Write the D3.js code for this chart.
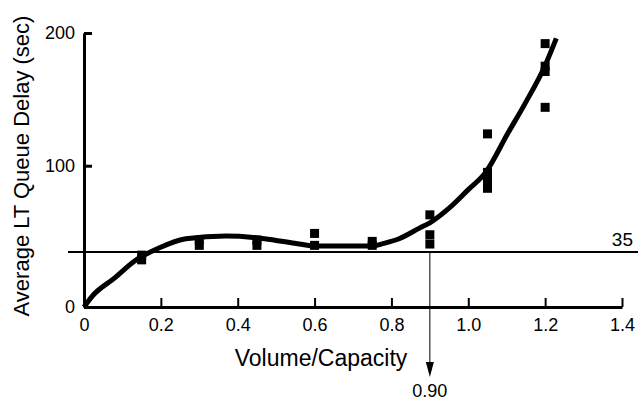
<!DOCTYPE html>
<html>
<head>
<meta charset="utf-8">
<script src="https://cdn.jsdelivr.net/npm/d3@7"></script>
<style>
  body { margin: 0; background: #fff; }
  svg text { font-family: "Liberation Sans", Arial, sans-serif; fill: #000; }
</style>
</head>
<body>
<script>
// observed delays (squares)
const pointX = [0.15, 0.15, 0.3, 0.3, 0.45, 0.45, 0.6, 0.6, 0.75, 0.75, 0.9, 0.9, 0.9, 1.05, 1.05, 1.05, 1.05, 1.2, 1.2, 1.2, 1.2]
const pointY = [33, 30, 44, 40, 44, 40, 49, 40, 43, 40, 63, 48, 41, 124, 95, 89, 83, 192, 175, 171, 144]

// fitted curve
const curveX = [0, 0.02, 0.08, 0.13, 0.195, 0.265, 0.37, 0.44, 0.47, 0.56, 0.6, 0.75, 0.78, 0.82, 0.873, 0.9, 0.95, 1.0, 1.044, 1.104, 1.148, 1.199, 1.229]
const curveY = [0, 6.5, 18.5, 29, 38, 45, 47, 46, 45, 41, 39.5, 39.5, 41.5, 45, 53, 57, 68, 82, 94.5, 125, 147, 175, 196]

const xTicks = [0, 0.2, 0.4, 0.6, 0.8, 1.0, 1.2, 1.4]
const xTickLabels = ['0', '0.2', '0.4', '0.6', '0.8', '1.0', '1.2', '1.4']
const yTicks = [0, 100, 200]

const threshold = 35     // horizontal reference line
const crossing = 0.90    // where the curve meets it

const WIDTH = 638
const HEIGHT = 401

const svg = d3.select('body').append('svg')
  .attr('width', WIDTH)
  .attr('height', HEIGHT)

const x = d3.scaleLinear().domain([0, 1.4]).range([84, 622])
// the printed figure is not quite linear near the bottom, so calibrate on three knots
const y = d3.scaleLinear().domain([0, 35, 200]).range([307, 252, 33])

// x axis, ticks pointing up
const xAxis = svg.append('g')
  .attr('transform', `translate(0,${y(0)})`)
  .call(d3.axisBottom(x)
    .tickValues(xTicks)
    .tickFormat((d, i) => xTickLabels[i])
    .tickSizeInner(-9)
    .tickSizeOuter(0)
    .tickPadding(11))
xAxis.select('.domain').attr('stroke', '#000').attr('stroke-width', 3)
xAxis.selectAll('.tick line').attr('stroke', '#000').attr('stroke-width', 2)
xAxis.selectAll('.tick text').attr('font-size', 18).attr('fill', '#000')

// y axis, ticks pointing right
const yAxis = svg.append('g')
  .attr('transform', `translate(${x(0)},0)`)
  .call(d3.axisLeft(y)
    .tickValues(yTicks)
    .tickSizeInner(-8)
    .tickSizeOuter(0)
    .tickPadding(9))
yAxis.select('.domain').attr('stroke', '#000').attr('stroke-width', 3)
yAxis.selectAll('.tick line').attr('stroke', '#000').attr('stroke-width', 3)
yAxis.selectAll('.tick text').attr('font-size', 18).attr('fill', '#000')

// reference line at 35
svg.append('line')
  .attr('x1', 68)
  .attr('x2', WIDTH)
  .attr('y1', y(threshold))
  .attr('y2', y(threshold))
  .attr('stroke', '#000')
  .attr('stroke-width', 2)

svg.append('text')
  .attr('x', 633)
  .attr('y', y(threshold) - 6)
  .attr('text-anchor', 'end')
  .attr('font-size', 19)
  .text(threshold)

// arrow down from the crossing
const ax = x(crossing)
svg.append('line')
  .attr('x1', ax).attr('x2', ax)
  .attr('y1', y(threshold))
  .attr('y2', 364)
  .attr('stroke', '#000')
  .attr('stroke-width', 1)
svg.append('path')
  .attr('d', `M${ax - 4},362L${ax + 4},362L${ax},377Z`)
  .attr('fill', '#000')
svg.append('text')
  .attr('x', ax)
  .attr('y', 397)
  .attr('text-anchor', 'middle')
  .attr('font-size', 18)
  .text(crossing.toFixed(2))

// fitted curve
const line = d3.line()
  .x(d => x(d[0]))
  .y(d => y(d[1]))
  .curve(d3.curveMonotoneX)

svg.append('path')
  .datum(d3.zip(curveX, curveY))
  .attr('d', line)
  .attr('fill', 'none')
  .attr('stroke', '#000')
  .attr('stroke-width', 5)
  .attr('stroke-linejoin', 'round')

// squares
const S = 9
svg.selectAll('rect.pt')
  .data(d3.zip(pointX, pointY))
  .enter()
  .append('rect')
  .attr('class', 'pt')
  .attr('x', d => x(d[0]) - S / 2)
  .attr('y', d => y(d[1]) - S / 2)
  .attr('width', S)
  .attr('height', S)
  .attr('fill', '#000')

// axis titles
svg.append('text')
  .attr('x', 321)
  .attr('y', 366)
  .attr('text-anchor', 'middle')
  .attr('font-size', 23)
  .text('Volume/Capacity')

svg.append('text')
  .attr('transform', 'translate(29,166) rotate(-90)')
  .attr('text-anchor', 'middle')
  .attr('font-size', 22)
  .text('Average LT Queue Delay (sec)')
</script>
</body>
</html>
